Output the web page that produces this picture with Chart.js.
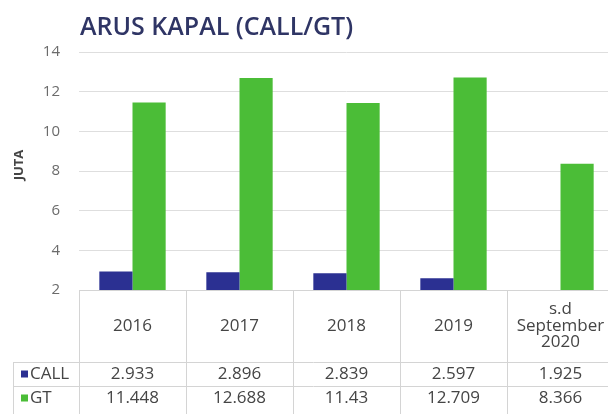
<!DOCTYPE html>
<html>
<head>
<meta charset="utf-8">
<script src="https://cdn.jsdelivr.net/npm/chart.js@4"></script>
<style>
  html, body { margin: 0; padding: 0; background: #fff; overflow: hidden; width: 608px; height: 414px; }
  canvas { display: block; }
</style>
</head>
<body>
<canvas id="arusChart" width="620" height="414"></canvas>
<script>
const categories = ['2016', '2017', '2018', '2019', ['s.d', 'September', '2020']];
const callValues = [2.933, 2.896, 2.839, 2.597, 1.925];
const gtValues = [11.448, 12.688, 11.43, 12.709, 8.366];
const seriesNames = ['CALL', 'GT'];
const yMin = 2;
const yMax = 14;
const yStep = 2;

const palette = {
  navy: '#2b3092',
  green: '#4bbd37',
  title: '#2f3565',
  text: '#454545',
  tick: '#6b6b6b',
  grid: '#dedede',
  table: '#d4d4d4'
};

const fontFamily = '"Open Sans", "DejaVu Sans", sans-serif';

// title, y axis caption and the data table under the bars
const tablePlugin = {
  id: 'dataTable',
  afterDraw(chart) {
    const { ctx, chartArea } = chart;
    const x = chart.scales.x;
    const half = (x.getPixelForValue(1) - x.getPixelForValue(0)) / 2;
    const top = chartArea.bottom;
    const headerH = 72;
    const rowH = 24;
    const row1 = top + headerH;
    const row2 = row1 + rowH;
    const tableLeft = 13;
    const right = chartArea.right;

    ctx.save();

    ctx.fillStyle = palette.title;
    ctx.font = '600 25px ' + fontFamily;
    ctx.textAlign = 'left';
    ctx.textBaseline = 'alphabetic';
    ctx.fillText('ARUS KAPAL (CALL/GT)', 80, 35);

    ctx.save();
    ctx.translate(19, 165);
    ctx.rotate(-Math.PI / 2);
    ctx.fillStyle = palette.text;
    ctx.font = 'bold 13px ' + fontFamily;
    ctx.textAlign = 'center';
    ctx.textBaseline = 'middle';
    ctx.fillText('JUTA', 0, 0);
    ctx.restore();

    ctx.strokeStyle = palette.table;
    ctx.lineWidth = 1;
    ctx.beginPath();
    ctx.moveTo(chartArea.left, top + 0.5);
    ctx.lineTo(right, top + 0.5);
    ctx.moveTo(tableLeft, row1 + 0.5);
    ctx.lineTo(right, row1 + 0.5);
    ctx.moveTo(tableLeft, row2 + 0.5);
    ctx.lineTo(right, row2 + 0.5);
    ctx.moveTo(tableLeft + 0.5, row1);
    ctx.lineTo(tableLeft + 0.5, chart.height);
    categories.forEach((c, i) => {
      const edge = Math.round(x.getPixelForValue(i) - half) + 0.5;
      ctx.moveTo(edge, top);
      ctx.lineTo(edge, chart.height);
    });
    ctx.stroke();

    ctx.fillStyle = palette.text;
    ctx.font = '17px ' + fontFamily;
    ctx.textAlign = 'center';
    ctx.textBaseline = 'middle';
    categories.forEach((c, i) => {
      const cx = x.getPixelForValue(i);
      const lines = Array.isArray(c) ? c : [c];
      const lh = 16.5;
      const start = top + headerH / 2 - (lines.length - 1) * lh / 2;
      lines.forEach((l, j) => ctx.fillText(l, cx, start + j * lh));
      ctx.fillText(String(callValues[i]), cx, row1 + rowH / 2);
      ctx.fillText(String(gtValues[i]), cx, row2 + rowH / 2);
    });

    const colors = [palette.navy, palette.green];
    [row1, row2].forEach((ry, k) => {
      ctx.fillStyle = colors[k];
      ctx.fillRect(21, ry + rowH / 2 - 3.5, 7, 7);
      ctx.fillStyle = palette.text;
      ctx.textAlign = 'left';
      ctx.fillText(seriesNames[k], 30, ry + rowH / 2);
    });

    ctx.restore();
  }
};

new Chart(document.getElementById('arusChart'), {
  type: 'bar',
  data: {
    labels: categories,
    datasets: [
      {
        label: seriesNames[0],
        data: callValues,
        backgroundColor: palette.navy,
        categoryPercentage: 0.62,
        barPercentage: 1
      },
      {
        label: seriesNames[1],
        data: gtValues,
        backgroundColor: palette.green,
        categoryPercentage: 0.62,
        barPercentage: 1
      }
    ]
  },
  options: {
    responsive: false,
    animation: false,
    devicePixelRatio: 1,
    layout: { padding: { left: 0, top: 52, right: 6, bottom: 124 } },
    plugins: {
      legend: { display: false },
      title: { display: false },
      tooltip: { enabled: false }
    },
    scales: {
      x: { display: false },
      y: {
        min: yMin,
        max: yMax,
        afterFit(scale) { scale.width = 79; },
        border: { display: false },
        grid: { color: palette.grid, drawTicks: false },
        ticks: {
          stepSize: yStep,
          padding: 19,
          color: palette.tick,
          font: { family: fontFamily, size: 15 }
        }
      }
    }
  },
  plugins: [tablePlugin]
});
</script>
</body>
</html>
